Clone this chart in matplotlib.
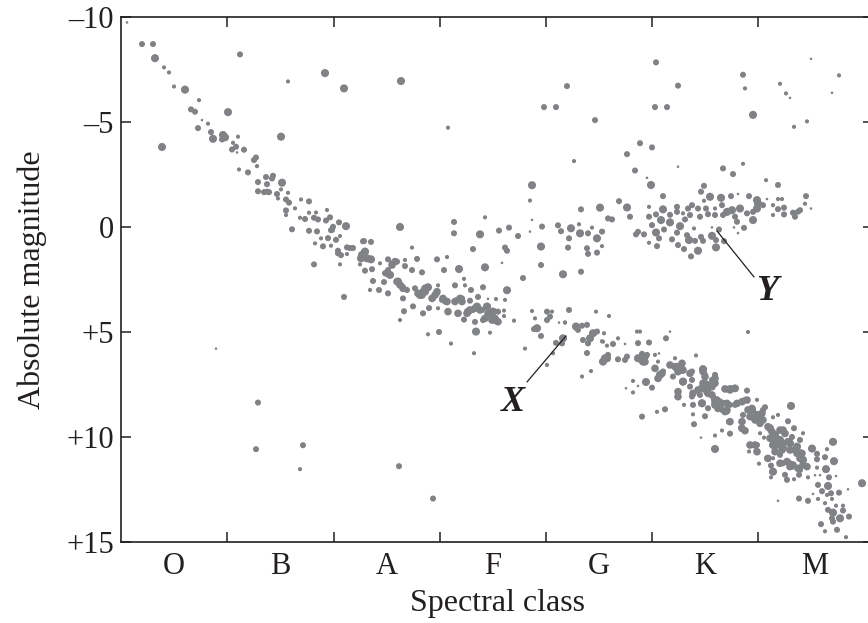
import matplotlib
matplotlib.use("Agg")
import matplotlib.pyplot as plt

plt.rcParams['font.family'] = ['Liberation Serif', 'DejaVu Serif']

class_labels = ['O', 'B', 'A', 'F', 'G', 'K', 'M']
class_centres = [53, 159, 266, 372, 478, 584, 694]
class_edges = [106, 213, 319, 425, 531, 637]
mag_ticks = [-10, -5, 0, 5, 10, 15]
mag_labels = ['\u201310', '\u20135', '0', '+5', '+10', '+15']

# (spectral position, absolute magnitude), grouped by how bright the dot prints
bold_upper = [(34,-8.04),(64,-6.54),(107,-5.47),(92,-4.2),(102,-4.38),(104,-4.27),(160,-4.3),(41,-3.81),
 (161,-2.11),(225,-0.04),(204,-7.33),(223,-6.6),(411,-1.99),(279,0.0),(359,0.35),(420,0.93),(442,2.25),(386,3.01),
 (450,0.06),(459,0.3),(476,0.54),(241,1.33),(246,1.49),(244,1.17),(250,1.54),(240,1.49),(269,2.28),(338,2.0),(364,1.92),
 (479,-0.92),(277,2.6),(299,3.24),(304,3.08),(307,2.87),(347,4.03),(356,3.79),(366,3.79),(369,4.19),(374,4.43),(372,4.03),(355,4.98),
 (280,-6.95)]
bold_giants = [(416,4.82),(442,5.3),(455,4.74),(469,5.3),(472,5.06),(484,6.25),(530,-2.0),(632,-5.34),(506,-0.93),
 (589,-1.44),(600,-1.39),(636,-1.28),(637,-1.12),(636,-0.88),(632,-0.33),(619,-0.88),(611,-0.8),(606,-0.72),(542,-0.84),
 (540,-0.33),(549,-0.22),(535,0.26),(559,-0.04),(568,0.62),(591,0.42),(595,0.97),(577,1.13)]
bold_lower = [(486,6.25),(482,6.41),(517,6.25),(522,6.41),(539,7.04),(556,6.73),(561,6.8),(582,6.77),(562,7.36),(584,7.52),
 (586,7.76),(581,7.68),(594,8.23),(581,8.39),(631,8.71),(636,8.95),(639,9.19),(670,8.52),(649,9.58),(654,9.9),(659,10.14),
 (652,10.38),(662,10.53),(669,10.3),(676,10.46),(679,10.77),(682,11.09),(652,11.65),(691,10.55),(712,10.23),(713,11.15),
 (705,11.53),(707,12.33),(741,12.2),(712,13.6),(719,13.87),(594,10.57),(525,7.38)]

mid_upper = [(21,-8.71),(32,-8.71),(119,-8.22),(70,-5.6),(74,-5.49),(77,-4.71),(90,-4.52),(101,-4.17),(123,-3.68),(111,-3.69),
 (115,-3.82),(135,-3.31),(133,-3.19),(127,-2.6),(145,-2.38),(152,-2.44),(151,-2.31),(146,-2.04),(137,-2.14),(137,-1.7),
 (146,-1.68),(143,-1.66),(148,-1.66),(156,-1.57),(165,-1.31),(168,-1.16),(188,-1.22),(165,-0.79),(184,-0.38),(193,-0.44),
 (197,-0.36),(209,-0.46),(205,-0.31),(218,-0.22),(171,0.11),(188,0.18),(196,0.21),(212,-0.01),(210,0.15),(207,0.53),(215,0.61),
 (202,0.92),(226,0.97),(232,1.0),(243,0.67),(217,1.13),(220,1.34),(193,1.78),(243,1.18),(242,0.68),(250,0.71),(211,0.14),
 (229,1.0),(217,1.25),(244,2.08),(251,2.01),(267,1.54),(276,1.65),(271,1.73),(267,2.05),(264,2.2),(284,1.86),(296,1.52),
 (291,2.05),(301,2.16),(316,1.54),(323,2.05),(333,-0.24),(333,0.3),(352,1.05),(378,0.17),(388,0.03),(397,0.43),(384,0.98),
 (386,1.13),(402,2.43),(420,1.81),(460,2.13),(421,-0.02),(437,-0.08),(440,0.2),(467,0.3),(448,0.54),(447,0.98),(466,1.01),
 (467,1.28),(476,1.22),(460,-0.84),(481,0.22),(446,-6.71),(423,-5.71),(435,-5.71),(474,-5.09)]
mid_mainseq = [(252,2.57),(263,2.62),(281,2.81),(286,3.0),(267,3.16),(258,3.0),(282,3.4),(292,3.78),(283,4.01),(302,4.11),
 (308,3.86),(223,3.33),(294,2.92),(312,3.4),(316,3.16),(321,3.47),(324,3.55),(334,2.78),(350,3.0),(362,2.87),(357,3.33),
 (336,3.47),(341,3.4),(349,3.51),(327,4.03),(337,4.11),(352,3.95),(361,3.95),(377,4.03),(343,4.41),(354,4.52),(362,4.43),(318,5.0),
 (426,4.03),(426,4.43),(429,4.27),(413,4.86),(420,5.19),(448,3.95),(461,4.7),(466,4.66),(457,4.9),(435,5.52),(441,5.54),
 (462,5.38),(476,4.98),(467,5.54),(466,6.0),(487,6.09)]
mid_giants = [(535,-7.84),(557,-6.73),(534,-5.71),(546,-5.71),(519,-3.99),(531,-3.79),(506,-3.47),(514,-2.69),(622,-7.25),
 (602,-2.79),(612,-2.52),(657,-2.0),(498,-1.23),(509,-0.49),(479,-0.93),(487,-0.41),(491,-0.36),(542,-1.47),(583,-1.96),
 (580,-1.68),(610,-1.47),(628,-1.47),(685,-1.47),(679,-0.8),(672,-0.68),(674,-0.49),(677,-0.73),(663,-0.92),(663,-0.6),
 (657,-0.85),(642,-1.04),(632,-0.72),(626,-0.65),(623,0.04),(616,-0.25),(614,-0.49),(601,-1.04),(602,-0.57),(594,-0.57),
 (585,-0.88),(587,-0.61),(579,-0.49),(577,-0.88),(571,-1.04),(567,-0.88),(569,-0.57),(564,-0.36),(556,-0.96),(556,-0.72),
 (549,-0.58),(528,-0.49),(535,-0.6),(531,-0.09),(543,0.12),(556,0.27),(538,0.54),(517,0.23),(515,0.35),(523,0.35),(536,0.91),
 (551,0.59),(557,0.86),(563,1.05),(566,0.39),(574,0.66),(580,0.47),(582,0.66),(595,0.62),(598,0.12),(603,0.67),(570,1.4)]
mid_lower = [(545,5.3),(492,5.57),(517,5.53),(528,5.5),(497,6.3),(506,6.17),(504,6.33),(526,6.09),(521,6.04),(534,6.73),(549,6.57),
 (542,6.88),(571,6.88),(584,7.04),(594,7.04),(591,7.28),(571,7.28),(552,7.12),(606,7.73),(612,7.68),(626,7.79),(557,8.04),
 (569,7.6),(571,8.07),(579,8.0),(591,8.0),(604,8.39),(597,8.55),(587,8.63),(572,8.47),(544,8.68),(521,9.03),(614,8.47),(624,8.23),
 (642,8.71),(644,8.58),(667,9.25),(673,9.58),(664,9.82),(671,10.0),(679,10.14),(659,10.85),(662,11.25),(669,11.25),(672,11.41),
 (679,11.57),(646,11.01),(650,11.36),(631,10.38),(636,10.38),(636,10.69),(664,11.8),(666,12.04),(678,11.8),(704,10.96),(696,10.8),
 (696,11.06),(708,11.92),(697,12.28),(718,12.65),(710,12.68),(701,12.58),(678,12.93),(687,13.04),(722,13.5),(707,13.47),(711,13.87),
 (712,14.03),(728,13.79),(700,14.15),(716,14.42),(573,9.39),(584,9.01),(609,9.84),(608,9.27),(621,9.27),(622,8.95),(531,7.65),
 (599,8.31),(609,8.47),(601,8.71),(606,8.79)]
mid_outliers = [(137,8.36),(135,10.58),(182,10.39),(278,11.39),(312,12.93)]

# stars packed so tightly that they print as one patch
dense_lower = [(582,7.44),(587,7.52),(594,7.44),(586,7.84),(591,8.0),(604,7.71),(609,7.71),(614,7.68),(594,8.4),(597,8.64),
 (604,8.79),(601,8.4),(606,8.4),(616,8.4),(621,8.32),(626,8.24),(627,8.71),(631,8.64),(629,9.03),(636,8.95),(641,8.87),(642,9.19),
 (634,9.19),(639,9.35),(647,9.51),(651,9.75),(654,10.06),(659,9.67),(649,10.06),(656,10.38),(662,10.3),(667,10.22),(661,10.62),
 (654,10.7),(669,10.62),(676,10.78),(679,11.02),(674,10.62),(682,11.33),(686,11.41),(681,10.78),(662,9.67),(664,9.83),(659,11.25),
 (666,11.17),(672,11.33),(677,11.49),(669,11.41),(629,10.38),(634,10.38),(636,10.7),(647,11.02),(621,9.27),(609,9.27),(621,9.59),(624,9.7)]
dense_knee = [(524,6.18),(524,6.42),(534,6.73),(541,6.97),(537,7.21),(549,6.57),(556,6.65),(561,6.49),(562,6.81),(557,6.89),(554,6.65),
 (569,6.97),(562,7.37),(582,6.89),(584,7.13),(584,7.45),(581,7.69),(591,7.61),(594,7.21),(587,7.92),(577,7.76),(557,7.84),(557,8.08),
 (572,7.92),(581,8.4),(596,8.24),(599,8.56),(594,8.48),(606,8.72),(609,7.76),(614,7.69)]
dense_upper = [(266,2.2),(271,1.81),(274,1.65),(276,2.6),(279,2.76),(282,2.92),(297,3.16),(302,3.08),(304,2.92),(301,3.24),(314,3.24),
 (316,3.08),(311,3.4),(322,3.4),(326,3.55),(334,3.55),(339,3.4),(341,3.55),(349,3.95),(354,3.87),(346,4.11),(359,3.95),(366,3.79),
 (367,4.11),(372,4.03),(374,4.35),(377,4.51),(371,4.43),(364,4.35),(327,4.03),(337,4.11)]

small_dots = [(43,-7.6),(48,-7.36),(53,-6.69),(78,-6.04),(87,-4.92),(117,-4.3),(112,-4.01),(136,-2.9),(118,-2.74),(160,-1.79),
 (167,-1.63),(157,-1.36),(180,-1.31),(174,-0.89),(165,-0.57),(188,-0.68),(195,-0.69),(206,-0.81),(179,-0.44),(200,0.54),(219,0.43),
 (194,0.78),(210,0.89),(226,1.29),(219,1.78),(239,1.78),(167,-6.93),(259,1.73),(284,1.57),(326,1.43),(291,0.98),(364,-0.46),
 (409,-1.26),(458,-0.13),(471,0.03),(249,3.0),(317,3.87),(279,4.43),(317,2.78),(344,2.78),(343,2.47),(375,3.43),(307,5.11),(330,5.55),
 (353,6.01),(369,5.03),(383,3.98),(383,4.24),(393,4.46),(404,5.79),(411,4.0),(414,4.35),(431,4.03),(444,4.55),(475,4.03),(432,6.01),
 (426,6.57),(481,5.44),(483,5.06),(486,5.65),(461,7.12),(470,6.86),(488,4.24),(384,3.47),(444,4.55),
 (535,-7.84),(624,-6.6),(659,-6.82),(665,-6.36),(673,-4.77),(686,-5.03),(718,-7.22),(622,-3.01),(645,-2.23),(482,0.21),(481,0.91),
 (657,-1.33),(661,-1.33),(684,-1.11),(652,-1.04),(652,-0.57),(583,-1.25),(594,-0.88),(562,-0.65),(528,-0.96),(528,0.75),(573,0.07),
 (627,5.0),(516,4.98),(519,4.98),(497,5.3),(482,5.46),(534,6.09),(537,6.41),(554,6.25),(575,6.12),(557,7.8),(563,8.47),(536,8.8),
 (636,8.23),(652,9.06),(657,8.95),(682,9.82),(652,11.01),(650,11.92),(638,11.27),(628,10.69),(673,12.01),(687,11.92),(706,10.58),
 (696,11.46),(706,12.76),(711,12.95),(697,12.95),(704,13.15),(715,13.27),(722,13.27),(704,14.49),(725,14.77),(572,8.92),(594,9.93),
 (601,9.69),(619,9.55),(624,9.69),(512,7.33),(512,7.88),(639,9.82),(643,10.03),(327,-4.73),(453,-3.14),(179,11.53)]

tiny_dots = [(6,-9.74),(81,-5.09),(116,-3.55),(411,-0.34),(409,0.22),(526,-2.34),(557,-2.87),(669,-6.15),(690,-8.01),(711,-6.39),
 (617,-1.57),(646,-1.33),(690,-0.88),(617,0.29),(613,0.02),(591,0.02),(381,1.71),(367,3.42),(438,4.55),(330,5.55),(727,12.49),
 (657,13.04),(580,10.03),(505,7.68),(517,7.57),(549,4.98),(504,5.57),(538,6.02),(715,11.86),(694,11.82),(699,11.82),(692,12.71),(95,5.79)]

SPEC_GREY = '#808285'
INK = '#231f20'

fig = plt.figure(figsize=(8.68, 6.23), dpi=100)
ax = fig.add_axes([121/868, (623-542)/623, (873-121)/868, (542-17)/623])

layers = [
    (bold_upper + bold_giants + bold_lower, 34),
    (dense_lower + dense_knee + dense_upper, 30),
    (mid_upper + mid_mainseq + mid_giants + mid_lower + mid_outliers, 19),
    (small_dots, 9),
    (tiny_dots, 3.5),
]
for stars, area in layers:
    xs, ms = zip(*stars)
    ax.scatter(xs, ms, s=area, color=SPEC_GREY, edgecolors='none', zorder=2)

ax.set_xlim(0, 752)
ax.set_ylim(15, -10)

ax.set_xticks(class_edges)
ax.set_xticklabels([])
ax.set_xticks(class_centres, minor=True)
ax.set_xticklabels(class_labels, minor=True, fontsize=22, color=INK)
ax.set_yticks(mag_ticks)
ax.set_yticklabels(mag_labels, fontsize=22, color=INK)

ax.tick_params(axis='both', which='major', direction='in', length=7.5, width=1.1, color=INK,
               top=True, right=True, bottom=True, left=True)
ax.tick_params(axis='x', which='minor', length=0, pad=7)
ax.tick_params(axis='y', which='major', pad=5)
for side in ax.spines.values():
    side.set_linewidth(1.2)
    side.set_color(INK)

ax.set_xlabel('Spectral class', fontsize=23, color=INK, labelpad=6)
ax.set_ylabel('Absolute magnitude', fontsize=23, color=INK, labelpad=14)

ax.annotate('', xy=(445, 5.19), xytext=(406, 7.38),
            arrowprops=dict(arrowstyle='-', color=INK, lw=0.9, shrinkA=0, shrinkB=0))
ax.annotate('', xy=(596, 0.19), xytext=(633, 2.38),
            arrowprops=dict(arrowstyle='-', color=INK, lw=0.9, shrinkA=0, shrinkB=0))
ax.text(392, 8.38, 'X', fontsize=26, fontweight='bold', fontstyle='italic', color=INK, ha='center', va='center')
ax.text(646, 3.05, 'Y', fontsize=26, fontweight='bold', fontstyle='italic', color=INK, ha='center', va='center')

fig.savefig('out.png', dpi=100)
